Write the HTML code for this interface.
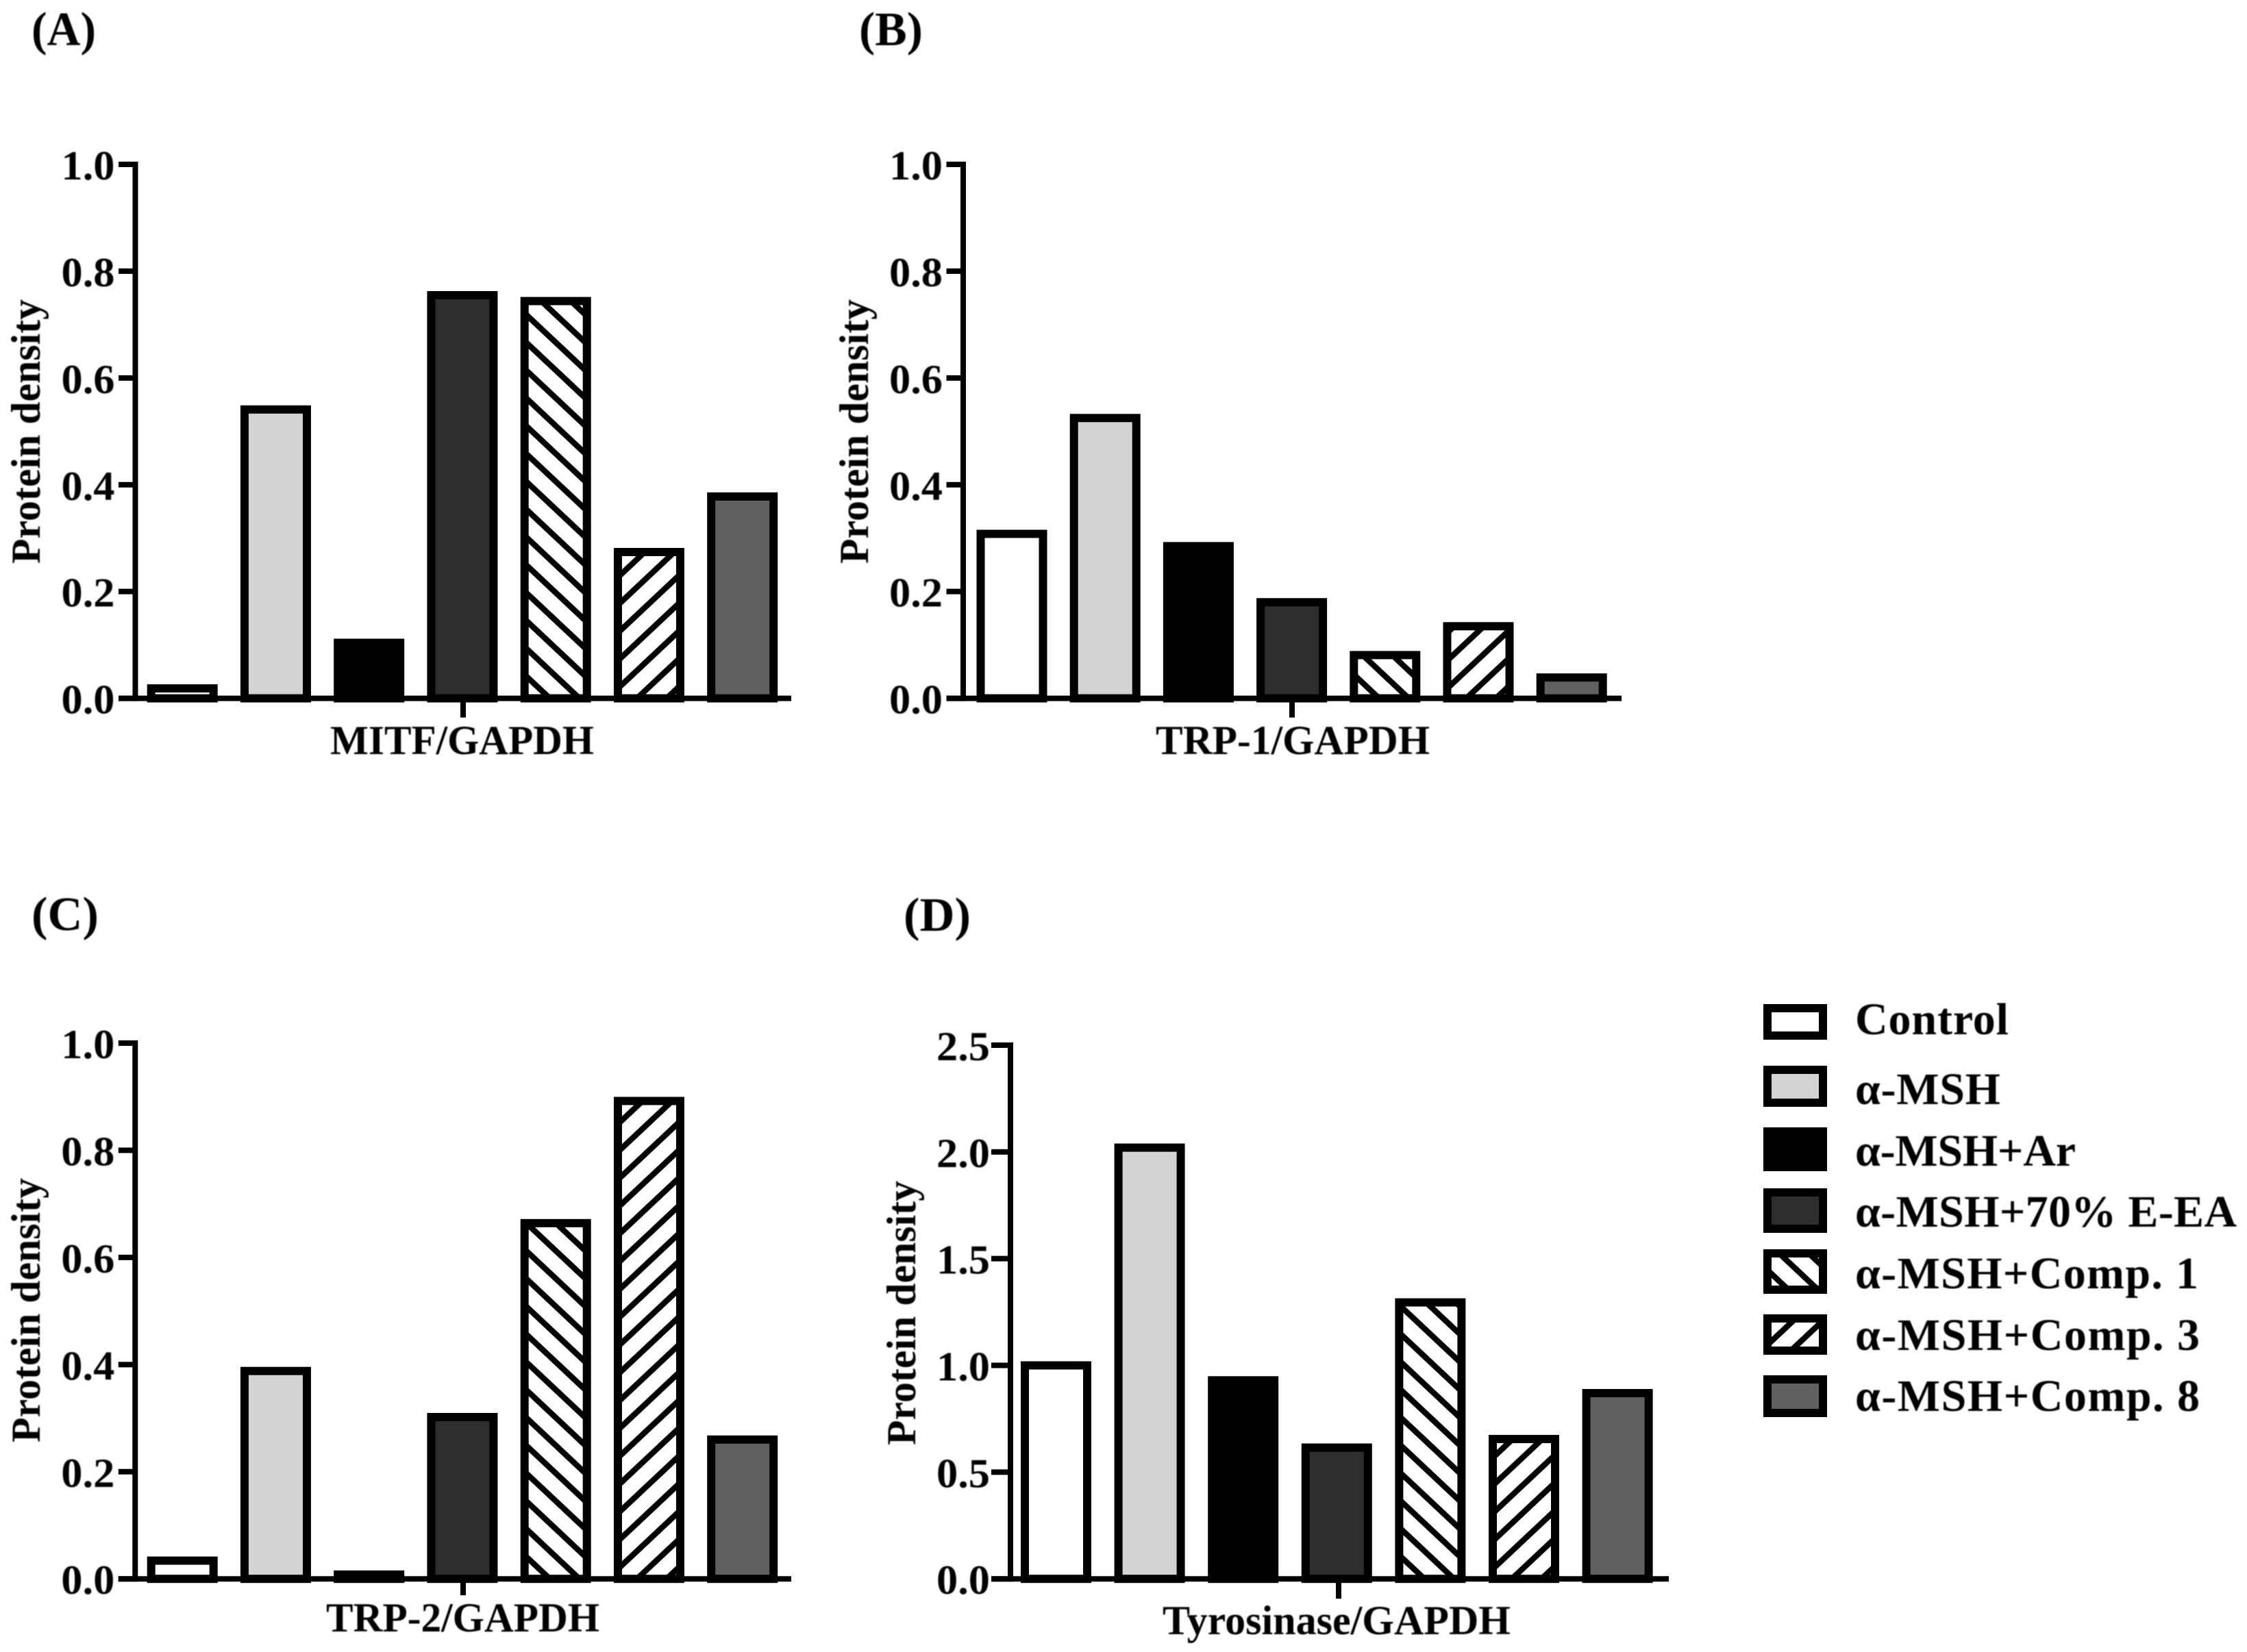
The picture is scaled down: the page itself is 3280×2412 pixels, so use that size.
<!DOCTYPE html>
<html lang="en">
<head>
<meta charset="utf-8">
<title>Protein density by treatment</title>
<style>
html,body{margin:0;padding:0;background:#fff;}
#figure{display:block;width:3280px;height:2412px;background:#fff;}
text{font-family:"Liberation Serif",serif;fill:#000;filter:blur(0.7px);}
</style>
</head>
<body>
<svg id="figure" xmlns="http://www.w3.org/2000/svg" width="3280" height="2412" viewBox="0 0 3280 2412">
<defs id="hatch-defs"></defs>
<g id="chart-root"></g>
<g id="legend-root"></g>
</svg>
<script>
const categories = ['Control', '\u03b1-MSH', '\u03b1-MSH+Ar', '\u03b1-MSH+70% E-EA', '\u03b1-MSH+Comp. 1', '\u03b1-MSH+Comp. 3', '\u03b1-MSH+Comp. 8'];
const valuesMITF = [0.0186, 0.541, 0.104, 0.755, 0.744, 0.274, 0.378];
const valuesTRP1 = [0.308, 0.525, 0.285, 0.18, 0.081, 0.135, 0.039];
const valuesTRP2 = [0.034, 0.388, 0.008, 0.302, 0.664, 0.892, 0.26];
const valuesTyrosinase = [1.0, 2.02, 0.93, 0.615, 1.295, 0.655, 0.87];
const ticksUnit = ['0.0', '0.2', '0.4', '0.6', '0.8', '1.0'];
const ticksTyrosinase = ['0.0', '0.5', '1.0', '1.5', '2.0', '2.5'];
const yAxisTitle = 'Protein density';

const fills = ['#ffffff', '#d3d3d3', '#000000', '#2d2d2d', 'back', 'forward', '#606060'];
const panelLayouts = [
  {key:'a', letter:'(A)', label:'MITF/GAPDH', values:valuesMITF, ticks:ticksUnit, axisX:197.5, top:240, base:1019.6, end:1155, first:266.2, step:136.25, tickX:676, tickLen:28, yTickLen:24.5, titleX:58, titleY:630, labelX:482, labelW:385, labelY:1101, letterX:46, letterY:66, letterW:94},
  {key:'b', letter:'(B)', label:'TRP-1/GAPDH', values:valuesTRP1, ticks:ticksUnit, axisX:1406, top:240, base:1019.6, end:2367, first:1477, step:136.2, tickX:1886, tickLen:28, yTickLen:24.5, titleX:1267, titleY:630, labelX:1687, labelW:400, labelY:1101, letterX:1254, letterY:66, letterW:93},
  {key:'c', letter:'(C)', label:'TRP-2/GAPDH', values:valuesTRP2, ticks:ticksUnit, axisX:197.3, top:1523, base:2305.2, end:1155, first:266.2, step:136.25, tickX:676, tickLen:24, yTickLen:24.5, titleX:58, titleY:1913, labelX:476, labelW:399, labelY:2382, letterX:46, letterY:1358, letterW:98},
  {key:'d', letter:'(D)', label:'Tyrosinase/GAPDH', values:valuesTyrosinase, ticks:ticksTyrosinase, axisX:1475, top:1526, base:2305.2, end:2436, first:1541.5, step:136.6, tickX:1954, tickLen:29, yTickLen:28, titleX:1336, titleY:1917, labelX:1697, labelW:508, labelY:2386, letterX:1319, letterY:1359, letterW:98}
];
const legendLayout = [
  {top:1466, bottom:1518, baseline:1510, width:224},
  {top:1556, bottom:1616, baseline:1612, width:212},
  {top:1646, bottom:1710, baseline:1702, width:322},
  {top:1735, bottom:1800, baseline:1791, width:557},
  {top:1824, bottom:1889, baseline:1881, width:501},
  {top:1919, bottom:1978, baseline:1971, width:503},
  {top:2008, bottom:2069, baseline:2060, width:503}
];

const NS = 'http://www.w3.org/2000/svg';
const HATCH_W = 43.2;
const HATCH_H = 40.6;
let hatchCount = 0;
function make(tag, attrs, parent) {
  const el = document.createElementNS(NS, tag);
  for (const k in attrs) el.setAttribute(k, attrs[k]);
  parent.appendChild(el);
  return el;
}
function slug(s) {
  return s.toLowerCase().replace(/\u03b1/g, 'alpha').replace(/%/g, 'pct').replace(/[^a-z0-9]+/g, '-').replace(/^-|-$/g, '');
}
function resolveFill(kind, left, bottom) {
  if (kind !== 'back' && kind !== 'forward') return kind;
  hatchCount += 1;
  const id = 'hatch-' + hatchCount;
  const ty = bottom - (kind === 'back' ? 29 : 20);
  const w = HATCH_W, h = HATCH_H;
  const pat = make('pattern', {id:id, patternUnits:'userSpaceOnUse', width:w, height:h, patternTransform:'translate(' + (left + 6) + ' ' + ty + ')'}, document.getElementById('hatch-defs'));
  make('rect', {width:w, height:h, fill:'#fff'}, pat);
  const d = kind === 'back'
    ? 'M' + (-w) + ',' + (-h) + 'L' + (2 * w) + ',' + (2 * h) + 'M' + (-w) + ',0L' + w + ',' + (2 * h) + 'M0,' + (-h) + 'L' + (2 * w) + ',' + h
    : 'M' + (-w) + ',' + (2 * h) + 'L' + (2 * w) + ',' + (-h) + 'M' + (-w) + ',' + h + 'L' + w + ',' + (-h) + 'M0,' + (2 * h) + 'L' + (2 * w) + ',0';
  make('path', {d:d, stroke:'#000', 'stroke-width':8.5, fill:'none'}, pat);
  return 'url(#' + id + ')';
}
const chartRoot = document.getElementById('chart-root');
const legendRoot = document.getElementById('legend-root');

panelLayouts.forEach(function (p) {
  const g = make('g', {}, chartRoot);
  
  
  const maxV = parseFloat(p.ticks[p.ticks.length - 1]);
  const yScale = function (v) { return p.base - (v / maxV) * (p.base - p.top); };
  const xScale = function (i) { return p.first + i * p.step; };

  const letter = make('text', {x:p.letterX, y:p.letterY, 'font-size':70, 'font-weight':'bold', textLength:p.letterW, lengthAdjust:'spacingAndGlyphs'}, g);
  letter.textContent = p.letter;
  
  

  p.values.forEach(function (v, i) {
    const y = yScale(v);
    const left = xScale(i) - 45.5;
    const bar = make('rect', {x:left, y:y, width:91, height:Math.max(p.base - y, 0), fill:resolveFill(fills[i], left, p.base), stroke:'#000', 'stroke-width':12}, g);
    
    
  });

  const yAxis = make('line', {x1:p.axisX, x2:p.axisX, y1:p.top - 4, y2:p.base + 4, stroke:'#000', 'stroke-width':8}, g);
  
  
  const xAxis = make('line', {x1:p.axisX - p.yTickLen, x2:p.end, y1:p.base, y2:p.base, stroke:'#000', 'stroke-width':8}, g);
  
  
  const xTick = make('line', {x1:p.tickX, x2:p.tickX, y1:p.base, y2:p.base + p.tickLen, stroke:'#000', 'stroke-width':8}, g);
  
  

  p.ticks.forEach(function (t) {
    const y = yScale(parseFloat(t));
    const tick = make('line', {x1:p.axisX - p.yTickLen, x2:p.axisX, y1:y, y2:y, stroke:'#000', 'stroke-width':8}, g);
    
    
    const lab = make('text', {x:p.axisX - 108, y:y + 22, 'font-size':60, 'font-weight':'bold', textLength:78, lengthAdjust:'spacingAndGlyphs'}, g);
    lab.textContent = t;
    
    
  });

  const title = make('text', {x:0, y:0, 'font-size':60, 'font-weight':'bold', 'text-anchor':'middle', textLength:386, lengthAdjust:'spacingAndGlyphs', transform:'translate(' + p.titleX + ' ' + p.titleY + ') rotate(-90)'}, g);
  title.textContent = yAxisTitle;
  
  

  const xLabel = make('text', {x:p.labelX, y:p.labelY, 'font-size':60, 'font-weight':'bold', textLength:p.labelW, lengthAdjust:'spacingAndGlyphs'}, g);
  xLabel.textContent = p.label;
  
  
});

categories.forEach(function (name, i) {
  const row = legendLayout[i];
  const g = make('g', {}, legendRoot);
  
  
  const sw = make('rect', {x:2580, y:row.top + 6, width:81, height:row.bottom - row.top - 12, fill:resolveFill(fills[i], 2580, row.bottom), stroke:'#000', 'stroke-width':12}, g);
  
  
  const label = make('text', {x:2708, y:row.baseline, 'font-size':66, 'font-weight':'bold', textLength:row.width, lengthAdjust:'spacing'}, g);
  label.textContent = name;
  
  
});
</script>
</body>
</html>
